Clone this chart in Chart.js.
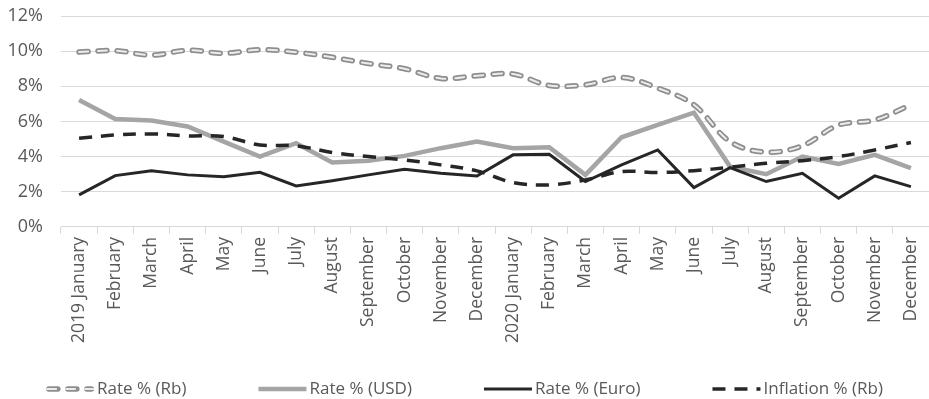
<!DOCTYPE html>
<html>
<head>
<meta charset="utf-8">
<title>Rates and inflation</title>
<script src="https://cdn.jsdelivr.net/npm/chart.js@4.4.1/dist/chart.umd.min.js"></script>
<style>
    html, body { margin: 0; padding: 0; background: #fff; }
    #wrap { width: 929px; height: 399px; position: relative; }
</style>
</head>
<body>
<div id="wrap"><canvas id="ratesChart"></canvas></div>
<script>
// ── Data ───────────────────────────────────────────────────────────────────────

const monthLabels = [
    "2019 January", "February", "March", "April", "May", "June",
    "July", "August", "September", "October", "November", "December",
    "2020 January", "February", "March", "April", "May", "June",
    "July", "August", "September", "October", "November", "December"
];

const rateRb    = [9.95, 10.03, 9.77, 10.05, 9.88, 10.08, 9.94, 9.65, 9.30, 9.00, 8.45, 8.60,
                   8.70, 8.05, 8.08, 8.50, 7.90, 6.95, 4.85, 4.25, 4.62, 5.80, 6.08, 6.95];
const rateUsd   = [7.22, 6.14, 6.05, 5.71, 4.85, 4.00, 4.76, 3.66, 3.77, 4.04, 4.48, 4.85,
                   4.48, 4.53, 2.96, 5.10, 5.80, 6.50, 3.43, 3.00, 4.00, 3.58, 4.10, 3.34];
const rateEuro  = [1.82, 2.92, 3.19, 2.96, 2.86, 3.11, 2.33, 2.63, 2.96, 3.28, 3.05, 2.90,
                   4.10, 4.13, 2.58, 3.53, 4.38, 2.24, 3.37, 2.58, 3.05, 1.63, 2.90, 2.29];
const inflation = [5.04, 5.23, 5.29, 5.18, 5.14, 4.66, 4.62, 4.23, 4.00, 3.81, 3.53, 3.19,
                   2.52, 2.39, 2.67, 3.15, 3.09, 3.20, 3.39, 3.62, 3.77, 4.00, 4.38, 4.80];

const yMin  = 0;
const yMax  = 12;
const yStep = 2;

// ── Styles ─────────────────────────────────────────────────────────────────────

const TEXT_COLOR = "#595959";
const GRID_COLOR = "#d9d9d9";
const FONT       = '"Open Sans", "DejaVu Sans", sans-serif';

// ── Legend drawn under the axis (line samples + labels) ────────────────────────

function strokeSample(ctx, ds, x, y, w) {
    const lw    = ds.borderWidth || 1;
    const inset = ds.borderCapStyle === "round" ? lw / 2 : 0;
    ctx.save();
    ctx.strokeStyle = ds.borderColor;
    ctx.lineWidth   = lw;
    ctx.lineCap     = ds.borderCapStyle || "butt";
    ctx.setLineDash(ds.borderDash || []);
    ctx.beginPath();
    ctx.moveTo(x + inset, y);
    ctx.lineTo(x + w - inset, y);
    ctx.stroke();
    ctx.restore();
}

const lineLegend = {
    id: "lineLegend",
    afterDraw(chart, args, opts) {
        const ctx  = chart.ctx;
        const sets = chart.data.datasets;
        const items = [];
        sets.forEach((ds, i) => {
            if (ds.overlay) return;
            const next = sets[i + 1];
            items.push({ ds, over: next && next.overlay ? next : null });
        });

        ctx.save();
        ctx.font = `${opts.fontSize}px ${FONT}`;
        const widths = items.map(it => opts.symbolWidth + opts.textGap + ctx.measureText(it.ds.label).width);
        const total  = widths.reduce((a, b) => a + b, 0) + opts.itemGap * (items.length - 1);
        const y      = chart.height - opts.bottom;
        let x        = (chart.width - total) / 2;

        items.forEach((it, k) => {
            strokeSample(ctx, it.ds, x, y, opts.symbolWidth);
            if (it.over) strokeSample(ctx, it.over, x, y, opts.symbolWidth);
            ctx.fillStyle    = TEXT_COLOR;
            ctx.textAlign    = "left";
            ctx.textBaseline = "middle";
            ctx.fillText(it.ds.label, x + opts.symbolWidth + opts.textGap, y);
            x += widths[k] + opts.itemGap;
        });
        ctx.restore();
    }
};

// ── Chart ──────────────────────────────────────────────────────────────────────

const rbDash   = [9, 10];
const inflDash = [13, 9];

new Chart(document.getElementById("ratesChart"), {
    type: "line",
    data: {
        labels: monthLabels,
        datasets: [
            {
                label: "Rate % (Rb)",
                data: rateRb,
                borderColor: "#8e8e8e",
                borderWidth: 5.5,
                borderDash: rbDash,
                borderCapStyle: "round",
                tension: 0.35,
                order: 1
            },
            {
                // light core of the hollow dashes
                label: "",
                overlay: true,
                data: rateRb,
                borderColor: "#ececec",
                borderWidth: 2,
                borderDash: rbDash,
                borderCapStyle: "round",
                tension: 0.35,
                order: 0
            },
            {
                label: "Rate % (USD)",
                data: rateUsd,
                borderColor: "#a5a5a5",
                borderWidth: 4.5,
                tension: 0,
                order: 4
            },
            {
                label: "Rate % (Euro)",
                data: rateEuro,
                borderColor: "#262626",
                borderWidth: 3,
                tension: 0,
                order: 3
            },
            {
                label: "Inflation % (Rb)",
                data: inflation,
                borderColor: "#262626",
                borderWidth: 3.5,
                borderDash: inflDash,
                tension: 0.35,
                order: 2
            }
        ]
    },
    options: {
        responsive: true,
        maintainAspectRatio: false,
        animation: false,
        elements: { point: { radius: 0, hoverRadius: 0 } },
        layout: { padding: { left: 0, top: 0, right: 0, bottom: 53 } },
        plugins: {
            legend:  { display: false },
            tooltip: { enabled: false },
            lineLegend: { fontSize: 17, symbolWidth: 48, textGap: 3, itemGap: 72, bottom: 10 }
        },
        scales: {
            x: {
                offset: true,
                grid: { offset: true, drawOnChartArea: false, color: GRID_COLOR, tickLength: 7 },
                border: { color: GRID_COLOR },
                ticks: {
                    autoSkip: false,
                    maxRotation: 90,
                    minRotation: 90,
                    padding: 3,
                    color: TEXT_COLOR,
                    font: { family: FONT, size: 17.5 }
                },
                // rotated labels fit inside the category offset, no side padding needed
                afterFit: scale => {
                    scale.paddingLeft  = 0;
                    scale.paddingRight = 0;
                }
            },
            y: {
                min: yMin,
                max: yMax,
                grid: { color: GRID_COLOR, drawTicks: false },
                border: { display: false },
                ticks: {
                    stepSize: yStep,
                    padding: 18,
                    color: TEXT_COLOR,
                    font: { family: FONT, size: 18 },
                    callback: v => `${v}%`
                },
                afterFit: scale => {
                    scale.width      = 61;
                    scale.paddingTop = 16;
                }
            }
        }
    },
    plugins: [lineLegend]
});
</script>
</body>
</html>
